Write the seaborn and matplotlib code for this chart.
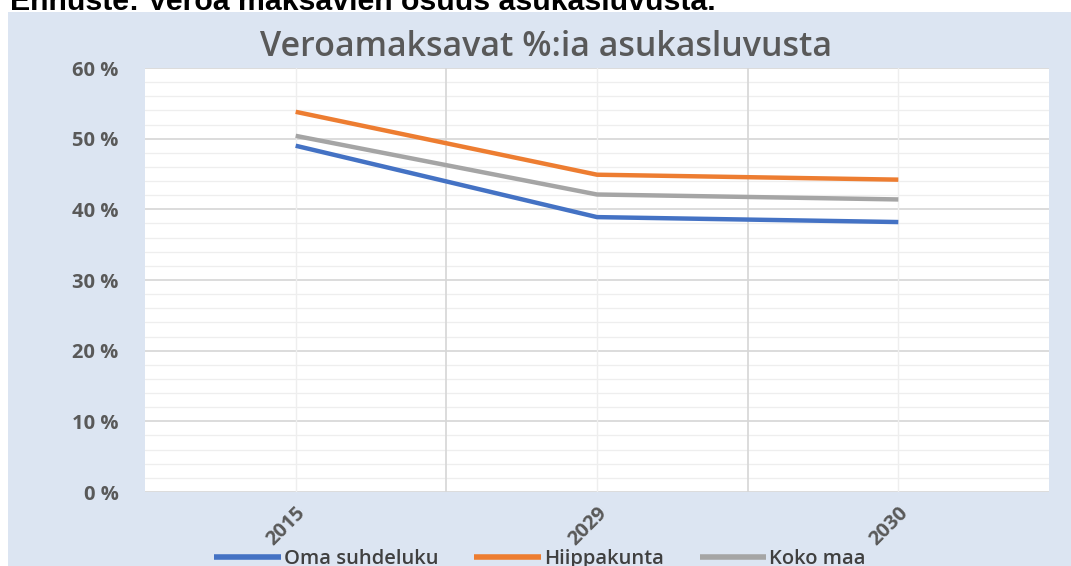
import seaborn as sns
import matplotlib.pyplot as plt
import matplotlib.patches as mpatches
import pandas as pd
import numpy as np

# Chart data
years = ['2015', '2029', '2030']
oma_suhdeluku = [49.0, 38.9, 38.2]
hiippakunta = [53.8, 44.9, 44.2]
koko_maa = [50.4, 42.1, 41.4]
series_names = ['Oma suhdeluku', 'Hiippakunta', 'Koko maa']
y_ticks = [0, 10, 20, 30, 40, 50, 60]

df = pd.DataFrame({
    'Vuosi': years * 3,
    'Osuus': oma_suhdeluku + hiippakunta + koko_maa,
    'Sarja': [s for s in series_names for _ in years],
})

sns.set_style('white')
plt.rcParams['font.family'] = ['Open Sans', 'DejaVu Sans']

fig = plt.figure(figsize=(10.71, 5.66), dpi=100, facecolor='white')
# light blue chart background, offset from the top-left like the screenshot
fig.patches.append(mpatches.Rectangle((8 / 1071, 0), 1, 1 - 12 / 566, transform=fig.transFigure,
                                      facecolor='#dce5f2', edgecolor='none', zorder=-10))
ax = fig.add_axes([145 / 1071, 1 - 492 / 566, (1049 - 145) / 1071, (492 - 68) / 566])
ax.set_facecolor('white')

palette = {'Oma suhdeluku': '#4472c4', 'Hiippakunta': '#ed7d31', 'Koko maa': '#a5a5a5'}
sns.lineplot(data=df, x='Vuosi', y='Osuus', hue='Sarja', palette=palette,
             linewidth=3.2, ax=ax, legend=True, solid_capstyle='butt', zorder=5)

ax.set_xlim(-0.5, 2.5)
ax.set_ylim(0, 60)
ax.set_yticks(y_ticks)
ax.set_yticklabels([f'{v} %' for v in y_ticks])
ax.set_yticks(np.arange(0, 61, 2), minor=True)
ax.set_xticks(range(len(years)))
ax.set_xticklabels(years, rotation=45, ha='right', rotation_mode='anchor')

# gridlines
ax.grid(axis='y', which='major', color='#d6d6d6', linewidth=1.2)
ax.grid(axis='y', which='minor', color='#eeeeee', linewidth=0.9)
for xb in [0.5, 1.5]:
    ax.axvline(xb, color='#d6d6d6', linewidth=1.2, zorder=1)
for xc in range(len(years)):
    ax.axvline(xc, color='#eeeeee', linewidth=1.0, zorder=1)
ax.set_axisbelow(True)

for sp in ax.spines.values():
    sp.set_visible(False)
ax.tick_params(axis='both', length=0, labelcolor='#595959')
ax.tick_params(axis='y', pad=19, labelsize=14.5)
ax.tick_params(axis='x', pad=8, labelsize=14.5)
for lbl in ax.get_yticklabels() + ax.get_xticklabels():
    lbl.set_fontweight('bold')
ax.set_xlabel('')
ax.set_ylabel('')

# legend at the bottom (cut off like the screenshot)
handles, labels = ax.get_legend_handles_labels()
ax.get_legend().remove()
leg = fig.legend(handles, labels, loc='center', bbox_to_anchor=(540 / 1071, 1 - 559 / 566), ncol=3,
                 frameon=False, fontsize=14.5, handlelength=3.3, handletextpad=0.15, columnspacing=1.8)
for t in leg.get_texts():
    t.set_color('#404040')
    t.set_fontweight('semibold')
for h in leg.legend_handles:
    h.set_linewidth(4)

fig.text(546 / 1071, 1 - 47 / 566, 'Veroamaksavat %:ia asukasluvusta', ha='center', va='center',
         fontsize=24.5, fontweight='semibold', color='#595959')

# page heading above the chart, cut off at the top edge
fig.text(10 / 1071, 1 - 10 / 566, 'Ennuste: Veroa maksavien osuus asukasluvusta.', ha='left',
         va='baseline', fontsize=21.8, fontweight='bold', color='black', family='Liberation Sans')

fig.savefig('out.png', dpi=100, facecolor='white')
